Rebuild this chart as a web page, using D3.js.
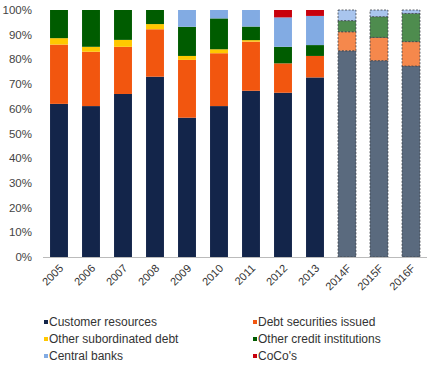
<!DOCTYPE html>
<html>
<head>
<meta charset="utf-8">
<script src="https://cdn.jsdelivr.net/npm/d3@7"></script>
<style>
  body { margin: 0; background: #fff; }
  svg { display: block; font-family: "Liberation Sans", Arial, sans-serif; }
</style>
</head>
<body>
<svg id="chart"></svg>
<script>
// data (% of funding)
let years = ["2005", "2006", "2007", "2008", "2009", "2010", "2011", "2012", "2013", "2014F", "2015F", "2016F"]
let customer = [62, 61.1, 66, 73, 56.4, 61.1, 67.3, 66.5, 72.7, 83.5, 79.5, 77.3]
let debtSec = [24, 22, 19.1, 19.2, 23.4, 21.4, 19.9, 11.9, 8.7, 7.7, 9.4, 9.9]
let otherSub = [2.6, 2, 2.8, 2.1, 1.6, 1.6, 0.6, 0, 0, 0, 0, 0]
let otherCredit = [11.4, 14.9, 12.1, 5.7, 11.8, 12.5, 5.5, 6.7, 4.4, 4.5, 8.4, 11.4]
let centralBanks = [0, 0, 0, 0, 6.8, 3.4, 6.7, 11.9, 11.8, 4.3, 2.7, 1.4]
let cocos = [0, 0, 0, 0, 0, 0, 0, 3, 2.4, 0, 0, 0]
let yTicks = [0, 10, 20, 30, 40, 50, 60, 70, 80, 90, 100]

let seriesNames = ["Customer resources", "Debt securities issued", "Other subordinated debt",
  "Other credit institutions", "Central banks", "CoCo's"]
let seriesVals = [customer, debtSec, otherSub, otherCredit, centralBanks, cocos]
let colors = ["#13254a", "#f2560f", "#ffc800", "#005c00", "#82abe3", "#c8000c"]
let fcColors = ["#5a6a7e", "#f5884c", "#ffd84d", "#4e8c4e", "#a9c5ee", "#d04040"]

const w = 427
const h = 368

let svg = d3.select("#chart").attr("width", w).attr("height", h)

let table = years.map((y, i) => {
  let row = { year: y }
  seriesNames.forEach((s, j) => { row[s] = seriesVals[j][i] })
  return row
})

let stack = d3.stack().keys(seriesNames)(table)

let xScale = d3.scaleBand()
  .domain(years)
  .range([43, 427])
  .paddingInner(0.44)
  .paddingOuter(0.22)

let yScale = d3.scaleLinear()
  .domain([0, 100])
  .range([257, 10])

// bars
stack.forEach((layer, j) => {
  svg.append("g")
    .selectAll("rect")
    .data(layer.filter(d => d[1] - d[0] > 0))
    .enter()
    .append("rect")
    .attr("x", d => xScale(d.data.year))
    .attr("width", xScale.bandwidth())
    .attr("y", d => yScale(d[1]))
    .attr("height", d => yScale(d[0]) - yScale(d[1]))
    .attr("fill", d => d.data.year.endsWith("F") ? fcColors[j] : colors[j])
    .attr("stroke", d => d.data.year.endsWith("F") ? "#3a3f47" : "none")
    .attr("stroke-width", 0.8)
    .attr("stroke-dasharray", "2,1.5")
})

// x axis line
svg.append("line")
  .attr("x1", 43).attr("x2", 427)
  .attr("y1", yScale(0) + 0.5).attr("y2", yScale(0) + 0.5)
  .attr("stroke", "#bbb")

// y axis labels
svg.append("g")
  .selectAll("text")
  .data(yTicks)
  .enter()
  .append("text")
  .attr("x", 32)
  .attr("y", d => yScale(d))
  .attr("dy", "0.35em")
  .attr("text-anchor", "end")
  .attr("font-size", 11.5)
  .attr("fill", "#444")
  .text(d => d + "%")

// x labels, rotated
svg.append("g")
  .selectAll("text")
  .data(years)
  .enter()
  .append("text")
  .attr("transform", d => "translate(" + (xScale(d) + xScale.bandwidth() / 2 + 5) + "," + 269 + ") rotate(-45)")
  .attr("text-anchor", "end")
  .attr("font-size", 11)
  .attr("fill", "#333")
  .text(d => d)

// legend
let legendPos = [[44, 322], [253, 322], [44, 339], [253, 339], [44, 356], [253, 356]]
let lg = svg.append("g")
seriesNames.forEach((name, j) => {
  let p = legendPos[j]
  lg.append("rect")
    .attr("x", p[0]).attr("y", p[1] - 2)
    .attr("width", 4).attr("height", 4)
    .attr("fill", colors[j])
  lg.append("text")
    .attr("x", p[0] + 5).attr("y", p[1])
    .attr("dy", "0.35em")
    .attr("font-size", 12)
    .attr("fill", "#333")
    .text(name)
})
</script>
</body>
</html>
